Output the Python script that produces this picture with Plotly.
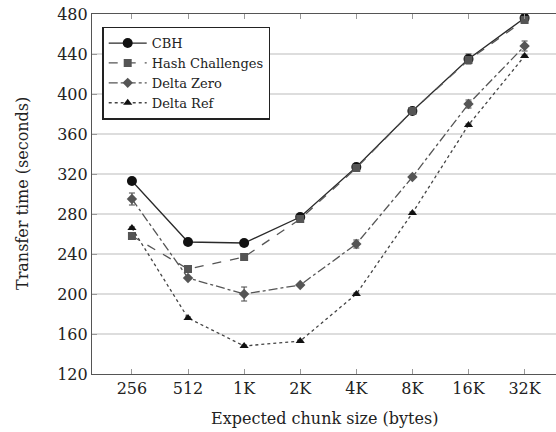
import plotly.graph_objects as go

categories = ["256", "512", "1K", "2K", "4K", "8K", "16K", "32K"]
cbh = [313, 252, 251, 277, 327, 383, 435, 476]
cbh_err = [2, 1, 1, 2, 2, 2, 5, 2]
hash_ch = [258, 225, 237, 275, 326, 383, 434, 474]
hash_err = [2, 1, 1, 2, 2, 2, 3, 2]
delta_zero = [295, 216, 200, 209, 250, 317, 390, 448]
dz_err = [6, 1, 7, 1, 4, 1, 4, 5]
delta_ref = [266, 176, 148, 153, 200, 281, 369, 438]
dr_err = [1, 1, 1, 1, 1, 1, 1, 1]
y_ticks = [120, 160, 200, 240, 280, 320, 360, 400, 440, 480]

FONT = "DejaVu Serif"
TXT = "#222222"

series = [
    ("CBH", cbh, cbh_err, "#2a2a2a", "solid", "circle", 10, "#111111"),
    ("Hash Challenges", hash_ch, hash_err, "#555555", "dash", "square", 8, "#555555"),
    ("Delta Zero", delta_zero, dz_err, "#555555", "dashdot", "diamond", 8, "#555555"),
    ("Delta Ref", delta_ref, dr_err, "#444444", "dot", "triangle-up", 8, "#111111"),
]

fig = go.Figure()
for name, vals, err, lc, dash, sym, ms, mc in series:
    fig.add_trace(go.Scatter(
        x=categories, y=vals, name=name, mode="lines+markers",
        line=dict(color=lc, width=1.3, dash=dash),
        marker=dict(symbol=sym, size=ms, color=mc),
        error_y=dict(type="data", array=err, visible=True, color="#444444",
                     thickness=1, width=3),
    ))

fig.update_layout(
    width=556, height=432,
    margin=dict(l=92, r=0, t=14, b=58),
    paper_bgcolor="white", plot_bgcolor="white",
    font=dict(family=FONT, color=TXT),
    showlegend=True,
    legend=dict(
        x=0.022, y=0.965, xanchor="left", yanchor="top",
        bgcolor="white", bordercolor="#222222", borderwidth=1.5,
        font=dict(family=FONT, size=13, color=TXT),
        tracegroupgap=0, itemwidth=38,
    ),
    xaxis=dict(
        type="category", categoryorder="array", categoryarray=categories,
        range=[-0.712, 7.56], automargin=False,
        showgrid=False, zeroline=False,
        showline=True, linecolor="#555555", linewidth=1.2, mirror="ticks",
        ticks="inside", ticklen=5, tickcolor="#999999",
        tickfont=dict(family=FONT, size=16, color=TXT),
    ),
    yaxis=dict(
        range=[120, 480], tickvals=y_ticks, automargin=False,
        showgrid=True, gridcolor="#dddddd", gridwidth=1.5, zeroline=False,
        showline=True, linecolor="#555555", linewidth=1.2, mirror=False,
        ticks="inside", ticklen=5, tickcolor="#999999",
        tickfont=dict(family=FONT, size=16, color=TXT),
    ),
    annotations=[
        dict(text="Expected chunk size (bytes)", xref="paper", yref="paper",
             x=0.5, y=(374 - 418) / 360, xanchor="center", yanchor="middle",
             showarrow=False, font=dict(family=FONT, size=16, color=TXT)),
        dict(text="Transfer time (seconds)", xref="paper", yref="paper",
             x=(22 - 92) / 464, y=0.5, xanchor="center", yanchor="middle",
             textangle=-90, showarrow=False,
             font=dict(family=FONT, size=16, color=TXT)),
    ],
)

fig.write_html("out.html", config={"displayModeBar": False},
               post_script="document.body.style.margin='0';")
